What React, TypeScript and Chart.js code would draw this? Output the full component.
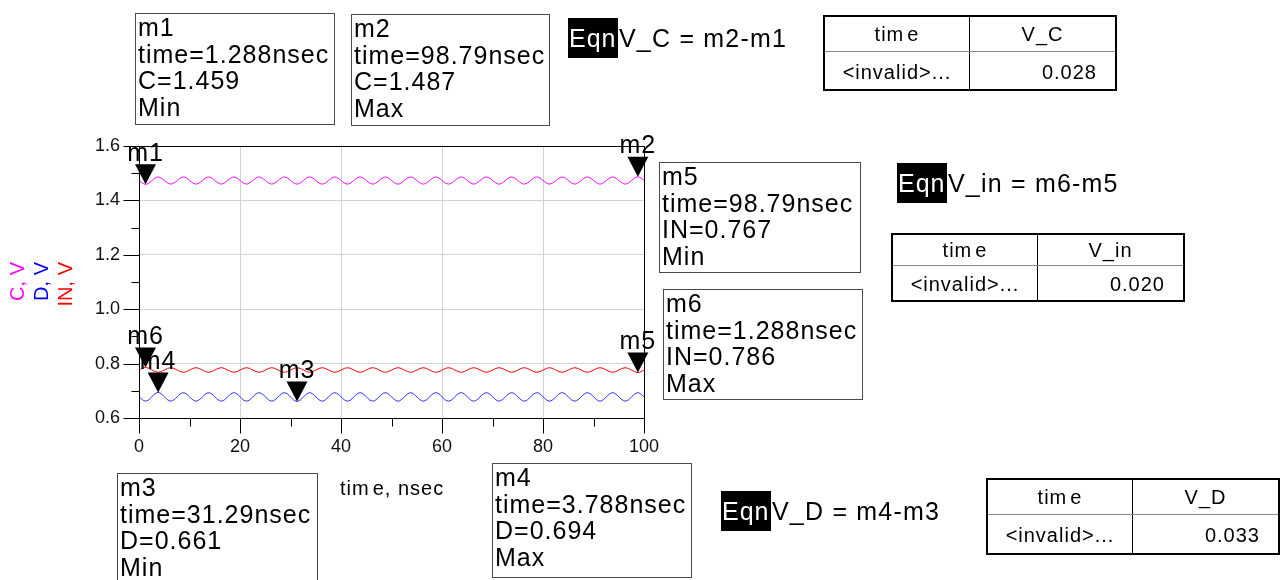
import React, { useEffect, useRef } from "react";
import { Chart, registerables } from "chart.js";

Chart.register(...registerables);

// ---------- data ----------
const TIME_NS = [
  0, 1.288, 3.788, 6.288, 8.788, 11.288, 13.788, 16.288, 18.788, 21.288, 23.788,
  26.288, 28.788, 31.288, 33.788, 36.288, 38.788, 41.288, 43.788, 46.288, 48.788,
  51.288, 53.788, 56.288, 58.788, 61.288, 63.788, 66.288, 68.788, 71.288, 73.788,
  76.288, 78.788, 81.288, 83.788, 86.288, 88.788, 91.288, 93.788, 96.288, 98.788, 100,
];

const C_V = [
  1.474,
  1.459, 1.486, 1.46, 1.486, 1.46, 1.486, 1.46, 1.486, 1.46, 1.486,
  1.46, 1.486, 1.46, 1.486, 1.46, 1.486, 1.46, 1.486, 1.46, 1.486,
  1.46, 1.486, 1.46, 1.486, 1.46, 1.486, 1.46, 1.486, 1.46, 1.486,
  1.46, 1.486, 1.46, 1.486, 1.46, 1.486, 1.46, 1.486, 1.46, 1.487,
  1.474,
];

const D_V = [
  0.678,
  0.662, 0.694, 0.662, 0.693, 0.662, 0.693, 0.662, 0.693, 0.662, 0.693,
  0.662, 0.693, 0.661, 0.693, 0.662, 0.693, 0.662, 0.693, 0.662, 0.693,
  0.662, 0.693, 0.662, 0.693, 0.662, 0.693, 0.662, 0.693, 0.662, 0.693,
  0.662, 0.693, 0.662, 0.693, 0.662, 0.693, 0.662, 0.693, 0.662, 0.693,
  0.678,
];

const IN_V = [
  0.776,
  0.786, 0.768, 0.785, 0.768, 0.785, 0.768, 0.785, 0.768, 0.785, 0.768,
  0.785, 0.768, 0.785, 0.768, 0.785, 0.768, 0.785, 0.768, 0.785, 0.768,
  0.785, 0.768, 0.785, 0.768, 0.785, 0.768, 0.785, 0.768, 0.785, 0.768,
  0.785, 0.768, 0.785, 0.768, 0.785, 0.768, 0.785, 0.768, 0.785, 0.767,
  0.776,
];

const SERIES_NAMES = ["C", "D", "IN"];
const SERIES_VALUES = [C_V, D_V, IN_V];
const SERIES_COLORS = ["#ff00ff", "#2b2bff", "#ff0000"];
const TITLE_COLORS = ["#ff00ff", "#0000ff", "#ff0000"];
const Y_TITLES = ["C, V", "D, V", "IN, V"];

const X_MIN = 0;
const X_MAX = 100;
const X_STEP = 20;
const Y_MIN = 0.6;
const Y_MAX = 1.6;
const Y_STEP = 0.2;

const MARKER_NAMES = ["m1", "m2", "m3", "m4", "m5", "m6"];
const MARKER_SERIES = [0, 0, 1, 1, 2, 2];
const MARKER_TIMES = [1.288, 98.788, 31.288, 3.788, 98.788, 1.288];

// ---------- readout texts ----------
const MARKER_TEXTS = [
  ["m1", "time=1.288nsec", "C=1.459", "Min"],
  ["m2", "time=98.79nsec", "C=1.487", "Max"],
  ["m3", "time=31.29nsec", "D=0.661", "Min"],
  ["m4", "time=3.788nsec", "D=0.694", "Max"],
  ["m5", "time=98.79nsec", "IN=0.767", "Min"],
  ["m6", "time=1.288nsec", "IN=0.786", "Max"],
];
const EQN_TEXTS = ["V_C = m2-m1", "V_in = m6-m5", "V_D = m4-m3"];
const TABLE_HEADERS = ["V_C", "V_in", "V_D"];
const TABLE_VALUES = ["0.028", "0.020", "0.033"];

// ---------- layout ----------
const FONT = '"Liberation Sans", Arial, Helvetica, sans-serif';
const BOX_POS = [
  { left: 135, top: 13, width: 200, height: 112 },
  { left: 351, top: 14, width: 199, height: 112 },
  { left: 117, top: 473, width: 201, height: 112 },
  { left: 492, top: 463, width: 200, height: 115 },
  { left: 659, top: 162, width: 202, height: 111 },
  { left: 663, top: 289, width: 200, height: 111 },
];
const EQN_POS = [
  { left: 568, top: 18 },
  { left: 897, top: 163 },
  { left: 721, top: 491 },
];
const TABLE_POS = [
  { left: 823, top: 15, height: 76, head: 34 },
  { left: 891, top: 233, height: 69, head: 30 },
  { left: 986, top: 478, height: 77, head: 34 },
];

const CHART_AREA = { left: 139, right: 644, top: 146, bottom: 418 };

const frameAndTicksPlugin = {
  id: "frameAndTicks",
  afterDraw(chart: any) {
    const { ctx, chartArea, scales } = chart;
    const xs = scales.x;
    const ys = scales.y;
    ctx.save();
    ctx.strokeStyle = "#000";
    ctx.lineWidth = 1;
    const L = Math.round(chartArea.left) + 0.5;
    const R = Math.round(chartArea.right) + 0.5;
    const T = Math.round(chartArea.top) + 0.5;
    const B = Math.round(chartArea.bottom) + 0.5;
    ctx.beginPath();
    ctx.moveTo(L, T);
    ctx.lineTo(R, T);
    ctx.lineTo(R, B);
    ctx.lineTo(L, B);
    ctx.closePath();
    ctx.stroke();
    // tick marks (major + minor)
    const yt = ys.ticks.map((t: any) => t.value);
    ctx.beginPath();
    yt.forEach((v: number, i: number) => {
      const py = Math.round(ys.getPixelForValue(v)) + 0.5;
      ctx.moveTo(L - 16, py);
      ctx.lineTo(L, py);
      if (i < yt.length - 1) {
        const pm = Math.round(ys.getPixelForValue((v + yt[i + 1]) / 2)) + 0.5;
        ctx.moveTo(L - 8, pm);
        ctx.lineTo(L, pm);
      }
    });
    const xt = xs.ticks.map((t: any) => t.value);
    xt.forEach((v: number, i: number) => {
      const px = Math.round(xs.getPixelForValue(v)) + 0.5;
      ctx.moveTo(px, B);
      ctx.lineTo(px, B + 15);
      if (i < xt.length - 1) {
        const pm = Math.round(xs.getPixelForValue((v + xt[i + 1]) / 2)) + 0.5;
        ctx.moveTo(pm, B);
        ctx.lineTo(pm, B + 8);
      }
    });
    ctx.stroke();

    // rotated y-axis titles
    ctx.font = `20px ${FONT}`;
    ctx.textAlign = "right";
    ctx.textBaseline = "alphabetic";
    const titleX = [24, 48, 71.5];
    Y_TITLES.forEach((t, i) => {
      ctx.save();
      ctx.translate(titleX[i], 262);
      ctx.rotate(-Math.PI / 2);
      ctx.fillStyle = TITLE_COLORS[i];
      ctx.fillText(t, 0, 0);
      ctx.restore();
    });

    // markers
    ctx.fillStyle = "#000";
    ctx.textAlign = "center";
    ctx.font = `25px ${FONT}`;
    (ctx as any).letterSpacing = "1px";
    MARKER_NAMES.forEach((name, i) => {
      const t = MARKER_TIMES[i];
      const idx = TIME_NS.indexOf(t);
      const val = SERIES_VALUES[MARKER_SERIES[i]][idx];
      const px = xs.getPixelForValue(t);
      const py = ys.getPixelForValue(val);
      ctx.beginPath();
      ctx.moveTo(px, py);
      ctx.lineTo(px - 10.5, py - 20);
      ctx.lineTo(px + 10.5, py - 20);
      ctx.closePath();
      ctx.fill();
      ctx.fillText(name, px, py - 23.5);
    });
    ctx.restore();
  },
};

function ChartCanvas() {
  const ref = useRef<HTMLCanvasElement | null>(null);
  useEffect(() => {
    if (!ref.current) return;
    const datasets = SERIES_NAMES.map((name, s) => ({
      label: name,
      data: TIME_NS.map((t, i) => ({ x: t, y: SERIES_VALUES[s][i] })),
      borderColor: SERIES_COLORS[s],
      backgroundColor: SERIES_COLORS[s],
      borderWidth: 1,
      pointRadius: 0,
      fill: false,
      cubicInterpolationMode: "monotone" as const,
    }));
    const chart = new Chart(ref.current, {
      type: "line",
      data: { datasets },
      options: {
        animation: false,
        responsive: false,
        maintainAspectRatio: false,
        layout: {
          padding: {
            left: CHART_AREA.left - 60,
            right: 1287 - CHART_AREA.right,
            top: CHART_AREA.top,
            bottom: 580 - CHART_AREA.bottom - 40,
          },
        },
        plugins: { legend: { display: false }, tooltip: { enabled: false } },
        scales: {
          x: {
            type: "linear",
            min: X_MIN,
            max: X_MAX,
            ticks: {
              stepSize: X_STEP,
              color: "#111",
              font: { family: FONT, size: 18 },
              padding: 18,
              maxRotation: 0,
            },
            grid: { color: "#d2d2d2", lineWidth: 1, drawTicks: false },
            border: { display: true, color: "#000", width: 1 },
            afterFit: (s: any) => {
              s.height = 40;
            },
          },
          y: {
            type: "linear",
            min: Y_MIN,
            max: Y_MAX,
            ticks: {
              stepSize: Y_STEP,
              color: "#111",
              font: { family: FONT, size: 18 },
              padding: 19,
              callback: (v: any) => Number(v).toFixed(1),
            },
            grid: { color: "#d2d2d2", lineWidth: 1, drawTicks: false },
            border: { display: true, color: "#000", width: 1 },
            afterFit: (s: any) => {
              s.width = 60;
            },
          },
        },
      },
      plugins: [frameAndTicksPlugin],
    });
    return () => chart.destroy();
  }, []);
  return (
    <canvas
      ref={ref}
      width={1287}
      height={580}
      style={{ position: "absolute", left: 0, top: 0, width: 1287, height: 580, display: "block" }}
    />
  );
}

function MarkerBox({ i }: { i: number }) {
  const p = BOX_POS[i];
  return (
    <div
      style={{
        position: "absolute",
        left: p.left,
        top: p.top,
        width: p.width,
        height: p.height,
        boxSizing: "border-box",
        border: "1px solid #4a4a4a",
        paddingLeft: 2,
        fontSize: 25,
        lineHeight: "26.7px",
        letterSpacing: 1,
        whiteSpace: "pre",
        color: "#000",
      }}
    >
      {MARKER_TEXTS[i].map((l, k) => (
        <div key={k}>{l}</div>
      ))}
    </div>
  );
}

function Eqn({ i }: { i: number }) {
  const p = EQN_POS[i];
  return (
    <div
      style={{
        position: "absolute",
        left: p.left,
        top: p.top,
        height: 40,
        display: "flex",
        alignItems: "center",
        fontSize: 25,
        letterSpacing: 1.2,
        whiteSpace: "pre",
        color: "#000",
      }}
    >
      <span
        style={{
          display: "inline-block",
          width: 50,
          height: 40,
          lineHeight: "40px",
          background: "#000",
          color: "#fff",
          paddingLeft: 1,
          boxSizing: "border-box",
          letterSpacing: 1,
        }}
      >
        Eqn
      </span>
      <span style={{ marginLeft: 1 }}>{EQN_TEXTS[i]}</span>
    </div>
  );
}

function Table({ i }: { i: number }) {
  const p = TABLE_POS[i];
  const dataH = p.height - 4 - p.head - 1;
  return (
    <div
      style={{
        position: "absolute",
        left: p.left,
        top: p.top,
        width: 294,
        height: p.height,
        boxSizing: "border-box",
        border: "2px solid #000",
        fontSize: 20,
        letterSpacing: 1,
        color: "#000",
        whiteSpace: "pre",
      }}
    >
      <div style={{ display: "flex", height: p.head, borderBottom: "1px solid #888" }}>
        <div style={{ width: 144, borderRight: "1px solid #000", textAlign: "center", lineHeight: `${p.head}px` }}>
          <span>tim</span>
          <span style={{ marginLeft: 3 }}>e</span>
        </div>
        <div style={{ flex: 1, textAlign: "center", lineHeight: `${p.head}px` }}>{TABLE_HEADERS[i]}</div>
      </div>
      <div style={{ display: "flex", height: dataH }}>
        <div style={{ width: 144, borderRight: "1px solid #000", textAlign: "center", lineHeight: `${dataH + 3}px` }}>
          {"<invalid>..."}
        </div>
        <div style={{ flex: 1, textAlign: "right", paddingRight: 18, lineHeight: `${dataH + 3}px` }}>
          {TABLE_VALUES[i]}
        </div>
      </div>
    </div>
  );
}

export default function App() {
  return (
    <div
      style={{
        position: "fixed",
        left: 0,
        top: 0,
        width: 1287,
        height: 580,
        overflow: "hidden",
        background: "#fff",
        fontFamily: FONT,
      }}
    >
      <ChartCanvas />
      {MARKER_TEXTS.map((_, i) => (
        <MarkerBox key={i} i={i} />
      ))}
      {EQN_TEXTS.map((_, i) => (
        <Eqn key={i} i={i} />
      ))}
      {TABLE_HEADERS.map((_, i) => (
        <Table key={i} i={i} />
      ))}
      <div
        style={{
          position: "absolute",
          left: 340,
          top: 476,
          fontSize: 20,
          lineHeight: "24px",
          letterSpacing: 1,
          color: "#000",
          whiteSpace: "pre",
        }}
      >
        <span>tim</span>
        <span style={{ marginLeft: 3 }}>e, nsec</span>
      </div>
    </div>
  );
}
